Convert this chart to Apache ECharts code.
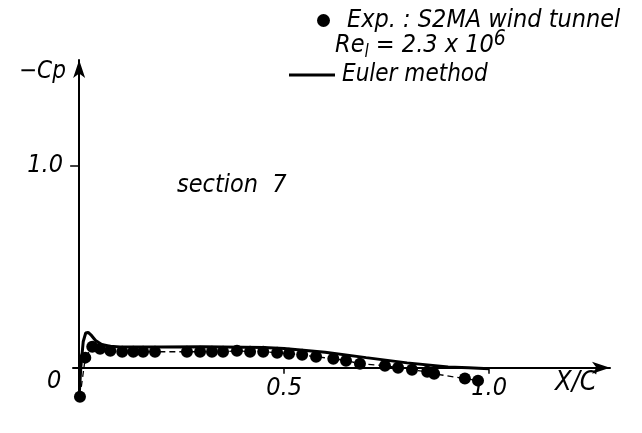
<!DOCTYPE html>
<html>
<head>
<meta charset="utf-8">
<script src="https://cdn.jsdelivr.net/npm/echarts@6/dist/echarts.min.js"></script>
<style>
html,body{margin:0;padding:0;background:#fff;}
#c{width:642px;height:433px;}
</style>
</head>
<body>
<div id="c"></div>
<script>
// Experimental data (S2MA wind tunnel), section 7
const expX = [0.002, 0.015, 0.032, 0.051, 0.076, 0.105, 0.132, 0.156, 0.185, 0.263, 0.295, 0.324, 0.351, 0.385, 0.417, 0.449, 0.483, 0.512, 0.544, 0.578, 0.620, 0.651, 0.685, 0.746, 0.778, 0.812, 0.849, 0.866, 0.941, 0.973];
const expY = [-0.144, 0.050, 0.104, 0.094, 0.084, 0.079, 0.079, 0.079, 0.079, 0.079, 0.079, 0.079, 0.079, 0.084, 0.079, 0.079, 0.074, 0.069, 0.064, 0.054, 0.045, 0.035, 0.020, 0.010, 0.000, -0.010, -0.020, -0.030, -0.054, -0.064];
// Euler method
const eulerX = [0, 0.004, 0.01, 0.016, 0.022, 0.03, 0.04, 0.055, 0.075, 0.1, 0.2, 0.3, 0.4, 0.45, 0.5, 0.6, 0.7, 0.8, 0.9, 0.95, 1.0];
const eulerY = [-0.14, 0.0, 0.13, 0.172, 0.175, 0.16, 0.135, 0.115, 0.106, 0.103, 0.103, 0.104, 0.102, 0.1, 0.095, 0.077, 0.05, 0.024, 0.003, 0.0, -0.005];
// Tick labels
const xTicks = [0.5, 1.0];
const yTicks = [1.0];

const FONT = "'DejaVu Sans Condensed', 'DejaVu Sans', sans-serif";
const chart = echarts.init(document.getElementById('c'), null, {renderer: 'canvas'});
const zip = (a, b) => a.map((v, i) => [v, b[i]]);
const txt = (size) => ({fontFamily: FONT, fontStyle: 'italic', fontSize: size, fill: '#000'});

chart.setOption({
  backgroundColor: '#fff',
  animation: false,
  grid: {left: 73, right: 32, top: 60, bottom: 33, containLabel: false},
  xAxis: {
    type: 'value', min: -0.015, max: 1.295,
    splitLine: {show: false},
    axisLine: {show: true, onZero: true, symbol: ['none', 'arrow'], symbolSize: [9, 18], lineStyle: {color: '#000', width: 2}},
    axisTick: {show: true, customValues: xTicks, length: 6, lineStyle: {color: '#000', width: 1.5}},
    axisLabel: {show: true, customValues: xTicks, margin: -24, color: '#000', fontFamily: FONT, fontStyle: 'italic', fontSize: 25,
      formatter: v => v.toFixed(1)}
  },
  yAxis: {
    type: 'value', min: -0.16, max: 1.525,
    splitLine: {show: false},
    axisLine: {show: true, onZero: true, symbol: ['none', 'arrow'], symbolSize: [9, 18], lineStyle: {color: '#000', width: 2}},
    axisTick: {show: true, customValues: yTicks, length: 9, lineStyle: {color: '#000', width: 1.5}},
    axisLabel: {show: true, customValues: yTicks, margin: 10, color: '#000', fontFamily: FONT, fontStyle: 'italic', fontSize: 25,
      formatter: v => v.toFixed(1)}
  },
  legend: [
    {data: [{name: 'Exp. : S2MA wind tunnel', icon: 'circle'}], left: 312, top: 3, itemWidth: 13, itemHeight: 13,
      textStyle: {color: '#000', fontFamily: FONT, fontStyle: 'italic', fontSize: 25, padding: [0, 0, 0, 12]}},
    {data: [{name: 'Euler method', icon: 'rect'}], left: 284, top: 58, itemWidth: 46, itemHeight: 3,
      textStyle: {color: '#000', fontFamily: FONT, fontStyle: 'italic', fontSize: 24, padding: [0, 0, 0, 2]}}
  ],
  graphic: [
    {type: 'text', left: 335, top: 29, style: {
      text: '{a|Re}{s|l}{a| = 2.3 x 10}{p|6}',
      rich: {
        a: Object.assign(txt(25), {lineHeight: 32, verticalAlign: 'middle'}),
        s: Object.assign(txt(17), {lineHeight: 16, verticalAlign: 'bottom'}),
        p: Object.assign(txt(21), {lineHeight: 16, verticalAlign: 'top'})
      }}},
    {type: 'text', left: 19, top: 60, style: Object.assign(txt(24), {text: '−Cp'})},
    {type: 'text', left: 47, top: 369, style: Object.assign(txt(25), {text: '0'})},
    {type: 'text', left: 555, top: 369, style: Object.assign(txt(27), {text: 'X/C'})},
    {type: 'text', left: 177, top: 173, style: Object.assign(txt(25), {text: 'section  7'})}
  ],
  series: [
    {name: 'Exp. : S2MA wind tunnel', type: 'line', data: zip(expX, expY), symbol: 'circle', symbolSize: 12,
      itemStyle: {color: '#000'}, lineStyle: {color: '#000', width: 1.3, type: [6, 4]}, z: 3},
    {name: 'Euler method', type: 'line', data: zip(eulerX, eulerY), symbol: 'none',
      itemStyle: {color: '#000'}, lineStyle: {color: '#000', width: 3}, z: 4}
  ]
});
</script>
</body>
</html>
